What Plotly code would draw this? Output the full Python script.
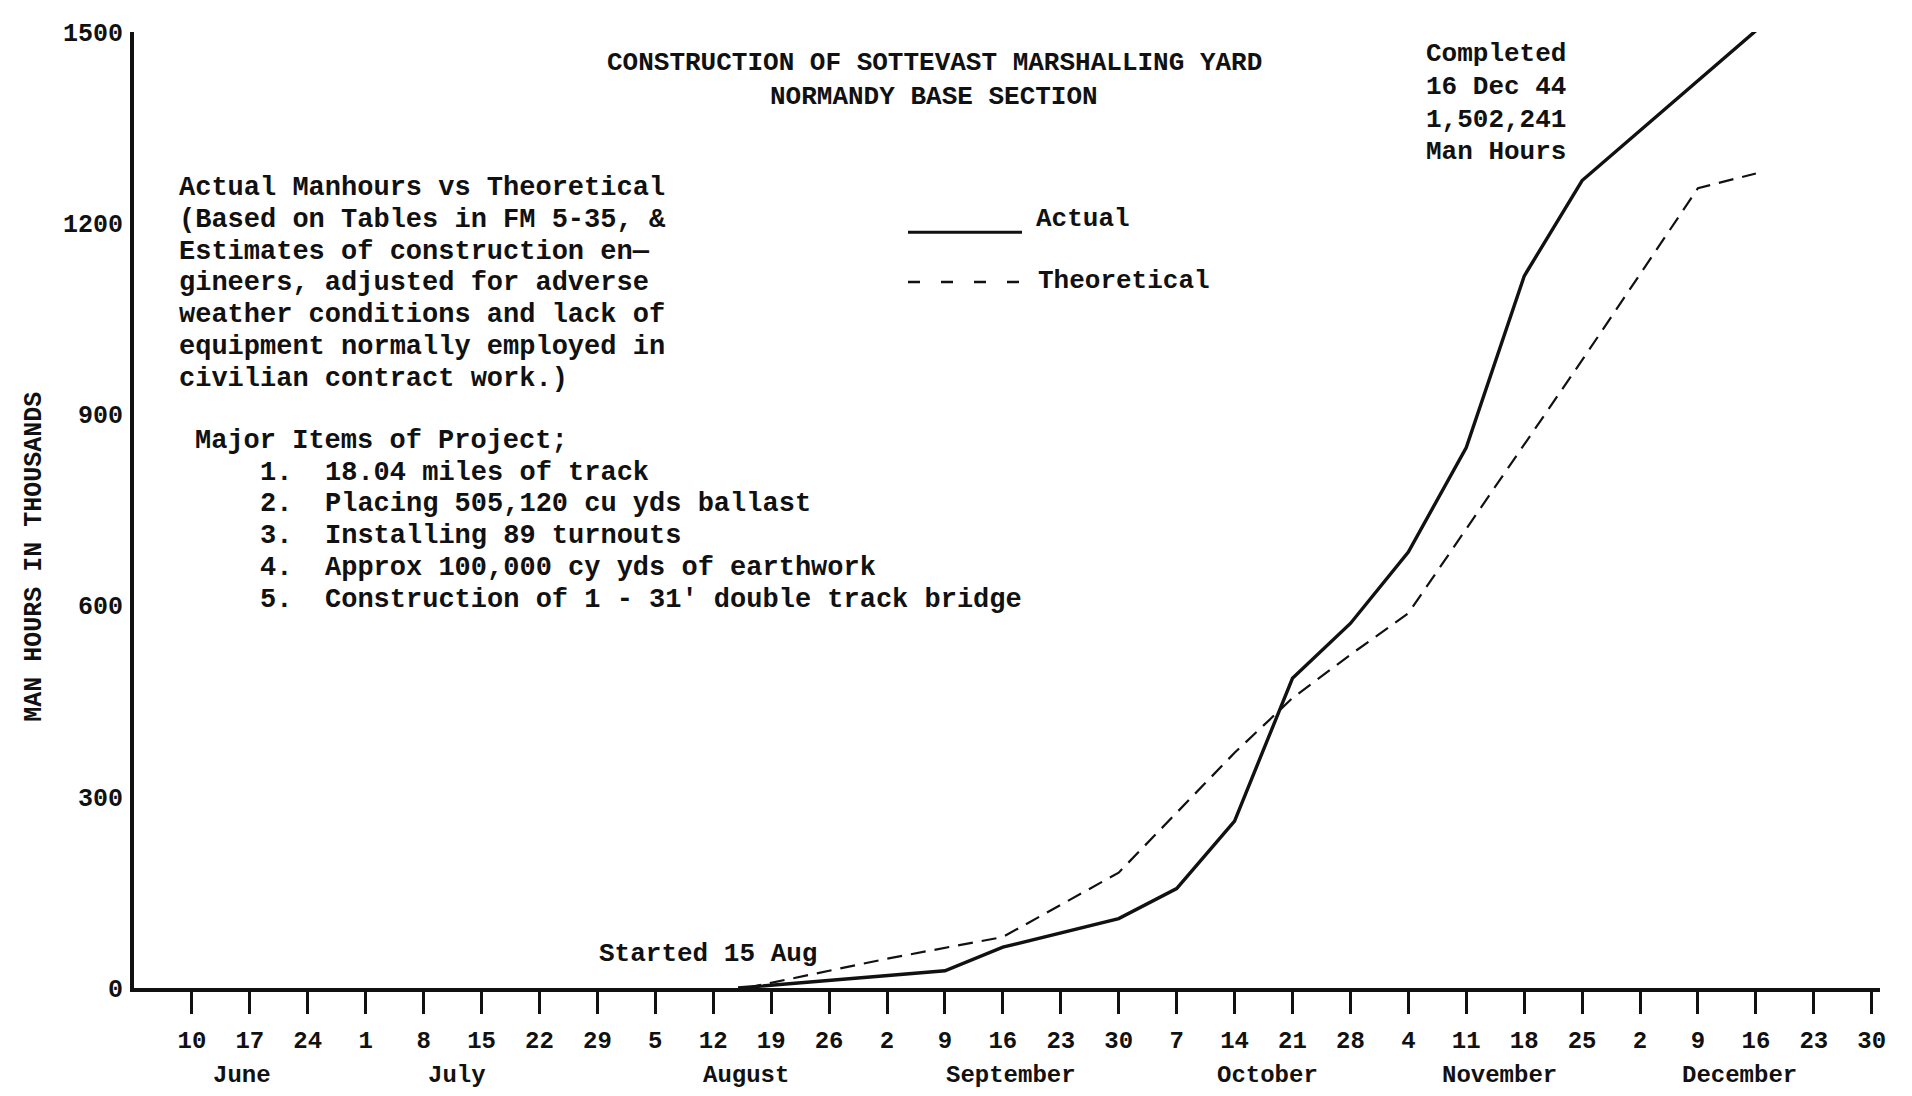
import plotly.graph_objects as go
import pandas as pd

# ---------------- data ----------------
actual_dates = ["1944-08-15", "1944-09-09", "1944-09-16", "1944-09-30", "1944-10-07",
                "1944-10-14", "1944-10-21", "1944-10-28", "1944-11-04", "1944-11-11",
                "1944-11-18", "1944-11-25", "1944-12-16"]
actual_values = [0, 27, 64, 109, 156, 262, 486, 572, 684, 848, 1117, 1267, 1502]

theor_dates = ["1944-08-16", "1944-09-02", "1944-09-16", "1944-09-30", "1944-10-07",
               "1944-10-14", "1944-10-21", "1944-10-28", "1944-11-04", "1944-11-11",
               "1944-11-18", "1944-11-25", "1944-12-02", "1944-12-09", "1944-12-16"]
theor_values = [0, 46, 80, 181, 275, 369, 455, 523, 588, 720, 852, 985, 1120, 1255, 1278]

tick_dates = [d.strftime("%Y-%m-%d") for d in pd.date_range("1944-06-10", "1944-12-30", freq="7D")]
tick_labels = ["10", "17", "24", "1", "8", "15", "22", "29", "5", "12", "19", "26",
               "2", "9", "16", "23", "30", "7", "14", "21", "28", "4", "11", "18", "25",
               "2", "9", "16", "23", "30"]
month_names = ["June", "July", "August", "September", "October", "November", "December"]
month_dates = ["1944-06-16", "1944-07-12", "1944-08-16", "1944-09-17", "1944-10-18",
               "1944-11-15", "1944-12-14"]

y_tickvals = [0, 300, 600, 900, 1200, 1500]
y_ticktext = ["0", "300", "600", "900", "1200", "1500"]

title_lines = ["CONSTRUCTION OF SOTTEVAST MARSHALLING YARD", "NORMANDY BASE SECTION"]
completed_lines = ["Completed", "16 Dec 44", "1,502,241", "Man Hours"]
note_lines = ["Actual Manhours vs Theoretical",
              "(Based on Tables in FM 5-35, &",
              "Estimates of construction en\u2014",
              "gineers, adjusted for adverse",
              "weather conditions and lack of",
              "equipment normally employed in",
              "civilian contract work.)"]
items_header = "Major Items of Project;"
item_numbers = ["1.", "2.", "3.", "4.", "5."]
item_texts = ["18.04 miles of track",
              "Placing 505,120 cu yds ballast",
              "Installing 89 turnouts",
              "Approx 100,000 cy yds of earthwork",
              "Construction of 1 - 31' double track bridge"]

# ---------------- layout helpers ----------------
OFF = 8                      # page body margin
W, H = 1904, 1088
PLOT_L, PLOT_R, PLOT_T, PLOT_B = 134, 1880, 28, 988   # page coords of plot area
ML, MT = PLOT_L - OFF, PLOT_T - OFF
MR, MB = W - (PLOT_R - OFF), H - (PLOT_B - OFF)
PW, PH = PLOT_R - PLOT_L, PLOT_B - PLOT_T


def px(x, y):
    """page pixel -> paper coords"""
    return (x - PLOT_L) / PW, (PLOT_B - y) / PH


FONT = "Liberation Mono"
BLACK = "#111111"


def txt(size):
    return dict(family=FONT, size=size, color=BLACK, weight="bold")


fig = go.Figure()
fig.add_trace(go.Scatter(x=theor_dates, y=theor_values, mode="lines", name="Theoretical",
                         line=dict(color=BLACK, width=2.2, dash="15px,9px"), showlegend=False))
fig.add_trace(go.Scatter(x=actual_dates, y=actual_values, mode="lines", name="Actual",
                         line=dict(color=BLACK, width=3.4), showlegend=False))

annotations = []


def add_text(text, x, y, size=27, xanchor="left", textangle=0):
    xp, yp = px(x, y)
    annotations.append(dict(text=text, x=xp, y=yp, xref="paper", yref="paper",
                            xanchor=xanchor, yanchor="middle", showarrow=False,
                            font=txt(size), textangle=textangle))


# title
for line, y in zip(title_lines, [59, 93]):
    add_text(line, 934, y, size=26, xanchor="center")
# completed block
for line, y in zip(completed_lines, [50, 83, 116, 148]):
    add_text(line, 1424, y, size=26)
# notes
for line, y in zip(note_lines, [185, 217, 249, 280, 312, 344, 376]):
    add_text(line, 177, y, size=27)
add_text(items_header, 193, 439, size=27)
for num, t, y in zip(item_numbers, item_texts, [471, 502, 534, 566, 598]):
    add_text(num, 258, y, size=27)
    add_text(t, 323, y, size=27)
# legend labels
add_text("Actual", 1034, 216, size=26)
add_text("Theoretical", 1036, 278, size=26)
# started
add_text("Started 15 Aug", 597, 954, size=26)
# y-axis title
add_text("MAN HOURS IN THOUSANDS", 35, 555, size=25, xanchor="center", textangle=-90)

# month labels under the axis
for name, d in zip(month_names, month_dates):
    annotations.append(dict(text=name, x=d, y=px(0, 1076)[1], xref="x", yref="paper",
                            xanchor="center", yanchor="middle", showarrow=False,
                            font=txt(24)))

# legend samples as shapes
shapes = []
x0, y0 = px(908, 229)
x1, _ = px(1022, 229)
shapes.append(dict(type="line", xref="paper", yref="paper", x0=x0, x1=x1, y0=y0, y1=y0,
                   line=dict(color=BLACK, width=3)))
x0, y0 = px(908, 279)
x1, _ = px(1020, 279)
shapes.append(dict(type="line", xref="paper", yref="paper", x0=x0, x1=x1, y0=y0, y1=y0,
                   line=dict(color=BLACK, width=2.5, dash="12px,21px")))

fig.update_layout(
    width=W, height=H,
    margin=dict(l=ML, r=MR, t=MT, b=MB, pad=0),
    paper_bgcolor="white", plot_bgcolor="white",
    annotations=annotations, shapes=shapes,
    xaxis=dict(type="date", range=["1944-06-03", "1944-12-31"],
               tickmode="array", tickvals=tick_dates, ticktext=tick_labels,
               showgrid=False, zeroline=False, showline=True, linecolor=BLACK, linewidth=4,
               ticks="outside", ticklen=22, tickwidth=2.5, tickcolor=BLACK,
               ticklabelstandoff=5, tickangle=0,
               tickfont=txt(24)),
    yaxis=dict(range=[0, 1500], tickmode="array", tickvals=y_tickvals, ticktext=y_ticktext,
               showgrid=False, zeroline=False, showline=True, linecolor=BLACK, linewidth=4,
               ticks="", ticklabelstandoff=2, tickfont=txt(25)),
    showlegend=False,
)

fig.write_html("out.html")
